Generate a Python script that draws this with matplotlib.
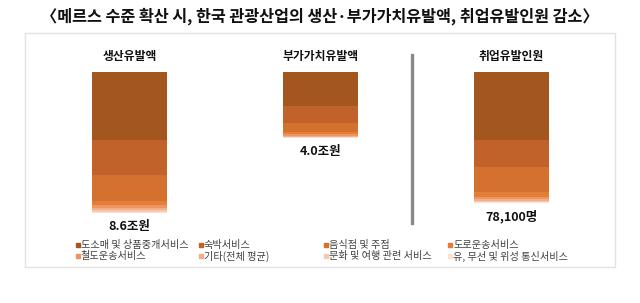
import matplotlib
matplotlib.use("Agg")
import matplotlib.pyplot as plt
import numpy as np
from matplotlib.patches import Rectangle
from matplotlib.lines import Line2D

plt.rcParams["font.family"] = ["Noto Sans CJK KR", "DejaVu Sans"]

W, H = 640, 303

title = "〈메르스 수준 확산 시, 한국 관광산업의 생산·부가가치유발액, 취업유발인원 감소〉"

industries = [
    "도소매 및 상품중개서비스",
    "숙박서비스",
    "음식점 및 주점",
    "도로운송서비스",
    "철도운송서비스",
    "기타(전체 평균)",
    "문화 및 여행 관련 서비스",
    "유, 무선 및 위성 통신서비스",
]
colors = ["#A3571F", "#C0622A", "#D4712F", "#E47D37",
          "#EC9664", "#F2AF87", "#F7C8AF", "#FBE1D2"]

bar_names = ["생산유발액", "부가가치유발액", "취업유발인원"]
bar_totals = ["8.6조원", "4.0조원", "78,100명"]

# trillion won
production = [4.15, 2.13, 1.59, 0.24, 0.20, 0.13, 0.10, 0.06]
value_added = [2.08, 1.04, 0.55, 0.12, 0.09, 0.06, 0.04, 0.02]
# persons
employment = [40500, 16100, 14900, 3000, 1500, 1000, 700, 400]


def fx(px):
    return px / W


def fy(py):
    return 1 - py / H


fig = plt.figure(figsize=(W / 100, H / 100), dpi=100)

# outer frame
fig.patches.append(Rectangle((fx(25), fy(267)), fx(615) - fx(25), fy(33) - fy(267),
                             transform=fig.transFigure, fill=False,
                             edgecolor="#E2E2E2", linewidth=1.0))

fig.text(0.5, fy(16), title, ha="center", va="center",
         fontsize=11.7, fontweight="bold", color="#111111")

ax = fig.add_axes([fx(34), fy(213), fx(606.5) - fx(34), fy(72) - fy(213)])
ax2 = ax.twinx()

width = 0.393
for a, xpos, vals in [(ax, 0, production), (ax, 1, value_added), (ax2, 2, employment)]:
    bottom = 0
    for v, c in zip(vals, colors):
        a.bar(xpos, v, width=width, bottom=bottom, color=c,
              edgecolor="none")
        bottom += v

ax.set_xlim(-0.5, 2.5)
ax.set_ylim(8.6, 0)
ax2.set_ylim(84060, 0)
for a in (ax, ax2):
    a.axis("off")

for i, (name, total) in enumerate(zip(bar_names, bar_totals)):
    a = ax2 if i == 2 else ax
    s = sum(employment) if i == 2 else sum([production, value_added][i])
    a.annotate(name, (i, 0), xytext=(0, 11), textcoords="offset points",
               ha="center", va="center", fontsize=8.5, fontweight="bold",
               color="#111111")
    a.annotate(total, (i, s), xytext=(0, -10), textcoords="offset points",
               ha="center", va="center", fontsize=9, fontweight="bold",
               color="#111111")

# separator
fig.lines.append(Line2D([fx(412), fx(412)], [fy(55), fy(223)],
                        transform=fig.transFigure, color="#8A8A8A",
                        linewidth=2.4))

# legend
col_x = [76, 199, 324, 448]
row_y = [245, 256]
for i, (lab, c) in enumerate(zip(industries, colors)):
    r, k = divmod(i, 4)
    fig.lines.append(Line2D([fx(col_x[k] + 2)], [fy(row_y[r])],
                            transform=fig.transFigure, marker="s",
                            markersize=3.3, color=c, linestyle="none"))
    fig.text(fx(col_x[k] + 5), fy(row_y[r]), lab, color="#404040",
             fontsize=7.3, ha="left", va="center")

fig.savefig("out.png", dpi=100)
